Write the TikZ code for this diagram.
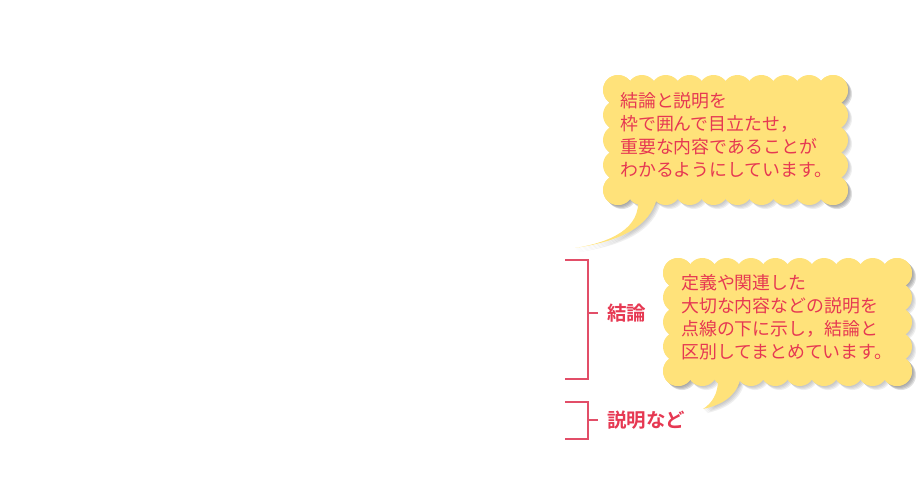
\documentclass[tikz,border=0pt]{standalone}
\usepackage{fontspec}
\newfontfamily\cjk{Noto Sans CJK JP}
\newfontfamily\cjkb{Noto Sans CJK JP Bold}
\definecolor{bubble}{RGB}{255,226,122}
\definecolor{txt}{RGB}{230,56,82}
\definecolor{brk}{RGB}{226,78,104}
\newcommand\cloudfill[6]{%
  \fill (#1,#2) rectangle (#3,#4);
  \foreach \i in {0,...,#5} {
    \fill ({#1+(#3-#1)*\i/#5},#2) circle[radius=15pt];
    \fill ({#1+(#3-#1)*\i/#5},#4) circle[radius=15pt];
  }
  \foreach \j in {0,...,#6} {
    \fill (#1,{#2+(#4-#2)*\j/#6}) circle[radius=15pt];
    \fill (#3,{#2+(#4-#2)*\j/#6}) circle[radius=15pt];
  }
}
\newcommand\bubbleone{%
  \cloudfill{618}{90}{833}{190}{9}{4}
  \fill (638,198) .. controls (641,228) and (612,242) .. (575,248) .. controls (622,241) and (650,226) .. (657,198) -- cycle;
}
\newcommand\bubbletwo{%
  \cloudfill{678}{273}{897}{371}{9}{4}
  \fill (718,380) .. controls (718,394) and (712,403) .. (703,409) .. controls (722,405) and (736,396) .. (740,380) -- cycle;
}
\tikzset{
  bodytext/.style={anchor=base west,inner sep=0pt,text=txt,font=\cjk\fontsize{17.9}{23}\selectfont},
  labeltext/.style={anchor=base west,inner sep=0pt,text=txt,font=\cjkb\fontsize{19.5}{23}\selectfont},
  bracket/.style={draw=brk,line width=1.4pt},
  shade layer/.style={fill=black!50,opacity=0.13}
}
\begin{document}
\begin{tikzpicture}[x=1pt,y=-1pt]
\useasboundingbox (0,0) rectangle (920,477);
% ---- shadows ----
\foreach \d in {1,2,3,4} {
  \begin{scope}[shift={(\d,\d)},shade layer]
    \bubbleone
    \bubbletwo
  \end{scope}
}
% ---- bubbles ----
\begin{scope}[fill=bubble]
  \bubbleone
  \bubbletwo
\end{scope}
% ---- bubble texts ----
\node[bodytext] (a1) at (620,107.8) {結論と説明を};
\node[bodytext] (a2) at (620,130.8) {枠で囲んで目立たせ，};
\node[bodytext] (a3) at (620,153.8) {重要な内容であることが};
\node[bodytext] (a4) at (620,176.8) {わかるようにしています。};
\node[bodytext] (b1) at (681,289.8) {定義や関連した};
\node[bodytext] (b2) at (681,312.8) {大切な内容などの説明を};
\node[bodytext] (b3) at (681,335.8) {点線の下に示し，結論と};
\node[bodytext] (b4) at (681,358.8) {区別してまとめています。};
% ---- brackets ----
\coordinate (k1) at (565,260);
\coordinate (k2) at (588,260);
\coordinate (k3) at (588,379);
\coordinate (k4) at (565,379);
\coordinate (km) at (588,313);
\coordinate (kt) at (598,313);
\draw[bracket] (k1) -- (k2) -- (k3) -- (k4);
\draw[bracket] (km) -- (kt);
\coordinate (s1) at (565,402);
\coordinate (s2) at (588,402);
\coordinate (s3) at (588,439);
\coordinate (s4) at (565,439);
\coordinate (sm) at (588,420);
\coordinate (st) at (598,420);
\draw[bracket] (s1) -- (s2) -- (s3) -- (s4);
\draw[bracket] (sm) -- (st);
\node[labeltext] (L1) at (607,320.4) {結論};
\node[labeltext] (L2) at (607,427.4) {説明など};
\end{tikzpicture}
\end{document}
